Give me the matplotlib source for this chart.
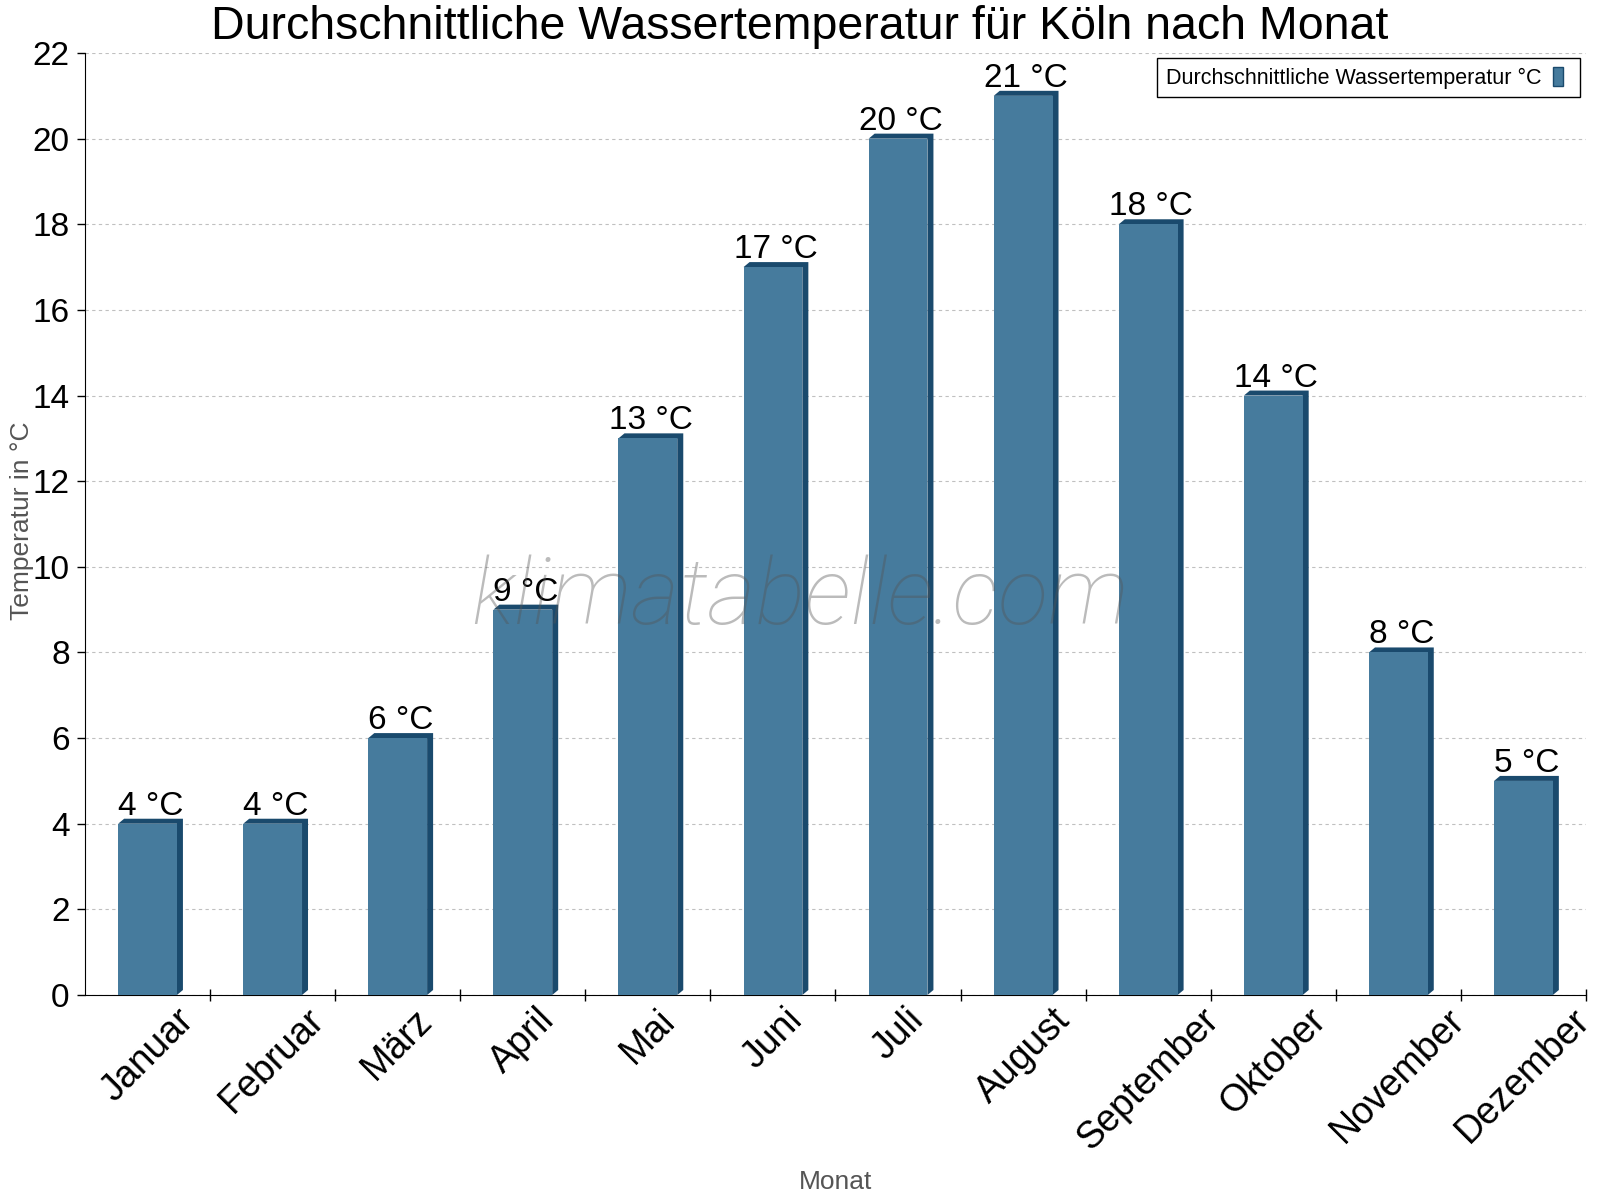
import matplotlib
matplotlib.use("Agg")
import matplotlib.pyplot as plt
from matplotlib.patches import Polygon, Rectangle
from matplotlib.legend_handler import HandlerPatch
from matplotlib.container import BarContainer
import numpy as np

months = ["Januar", "Februar", "März", "April", "Mai", "Juni", "Juli",
          "August", "September", "Oktober", "November", "Dezember"]
temps = [4, 4, 6, 9, 13, 17, 20, 21, 18, 14, 8, 5]
value_labels = [f"{v} °C" for v in temps]
y_ticks = list(range(0, 23, 2))

plt.rcParams['font.family'] = ['Liberation Sans', 'DejaVu Sans']

FRONT = "#467b9d"
DARK = "#1a4a6d"

W_PX, H_PX = 1600, 1200
L, R, T, B = 85, 1586, 53, 995

fig = plt.figure(figsize=(16, 12), dpi=100)
ax = fig.add_axes([L/W_PX, 1-B/H_PX, (R-L)/W_PX, (B-T)/H_PX])

x = np.arange(len(months))
w = 0.47
ax.set_xlim(-0.5, 11.5)
ax.set_ylim(0, 22)

# depth in data units from pixel depth
px_x = (R - L) / 12.0
px_y = (B - T) / 22.0
dx = 6.0 / px_x
dy = 5.0 / px_y

ax.bar(x, temps, width=w, color=FRONT, zorder=3,
       label="Durchschnittliche Wassertemperatur °C")
for xi, v in zip(x, temps):
    x0, x1 = xi - w/2, xi + w/2
    poly = Polygon([(x0, v), (x0+dx, v+dy), (x1+dx, v+dy), (x1+dx, dy),
                    (x1, 0), (x1, v)], closed=True, facecolor=DARK,
                   edgecolor='none', zorder=2.9)
    ax.add_patch(poly)

for xi, v, lab in zip(x, temps, value_labels):
    ax.text(xi + dx/2, v + dy + 4.0/px_y, lab, ha='center', va='baseline',
            fontsize=24, color='black', zorder=5)

ax.set_yticks(y_ticks)
ax.tick_params(axis='y', labelsize=24, length=6, width=1, direction='out', pad=5)
ax.set_xticks(x)
ax.set_xticklabels(months, rotation=45, ha='center', va='top', fontsize=27)
ax.tick_params(axis='x', which='major', length=0, pad=5)
ax.set_xticks(np.arange(0.5, 12, 1), minor=True)
ax.tick_params(axis='x', which='minor', length=9, width=1, direction='inout')

ax.grid(axis='y', linestyle=(0, (3, 3)), color='#c0c0c0', linewidth=0.8, zorder=0)
ax.set_axisbelow(True)
for s in ['top', 'right']:
    ax.spines[s].set_visible(False)
ax.spines['left'].set_color('black')
ax.spines['bottom'].set_color('black')

ax.set_xlabel("Monat", fontsize=19, color='#555555', labelpad=0)
ax.xaxis.set_label_coords(0.5, -0.186)
ax.set_ylabel("Temperatur in °C", fontsize=19, color='#555555')
ax.yaxis.set_label_coords(-0.034, 0.503)

fig.text(0.5, 1-39/H_PX, "Durchschnittliche Wassertemperatur für Köln nach Monat",
         fontsize=33.5, ha='center', va='baseline')


def narrow_patch(legend, orig_handle, xdescent, ydescent, width, height, fontsize):
    return Rectangle((-xdescent, -ydescent), width * 0.55, height)


def style_handle(legend_handle, orig_handle):
    legend_handle.set_facecolor(FRONT)
    legend_handle.set_edgecolor(DARK)
    legend_handle.set_linewidth(1)


leg = ax.legend(loc='upper right', markerfirst=False, fontsize=15.5,
                handlelength=0.84, handleheight=1.0, frameon=True, fancybox=False,
                borderpad=0.4, borderaxespad=0, handletextpad=0.55,
                bbox_to_anchor=(0.996, 0.9947),
                handler_map={BarContainer: HandlerPatch(patch_func=narrow_patch,
                                                        update_func=style_handle)})
leg.get_frame().set_edgecolor('black')
leg.get_frame().set_linewidth(1)
leg.get_frame().set_alpha(1)

fig.text(0.5, 1-599/H_PX, "klimatabelle.com", fontsize=67,
         family=['Roboto', 'DejaVu Sans'], fontweight='light', style='italic',
         color='#555555', alpha=0.4, ha='center', va='center', zorder=10)

fig.savefig("out.png", dpi=100)
